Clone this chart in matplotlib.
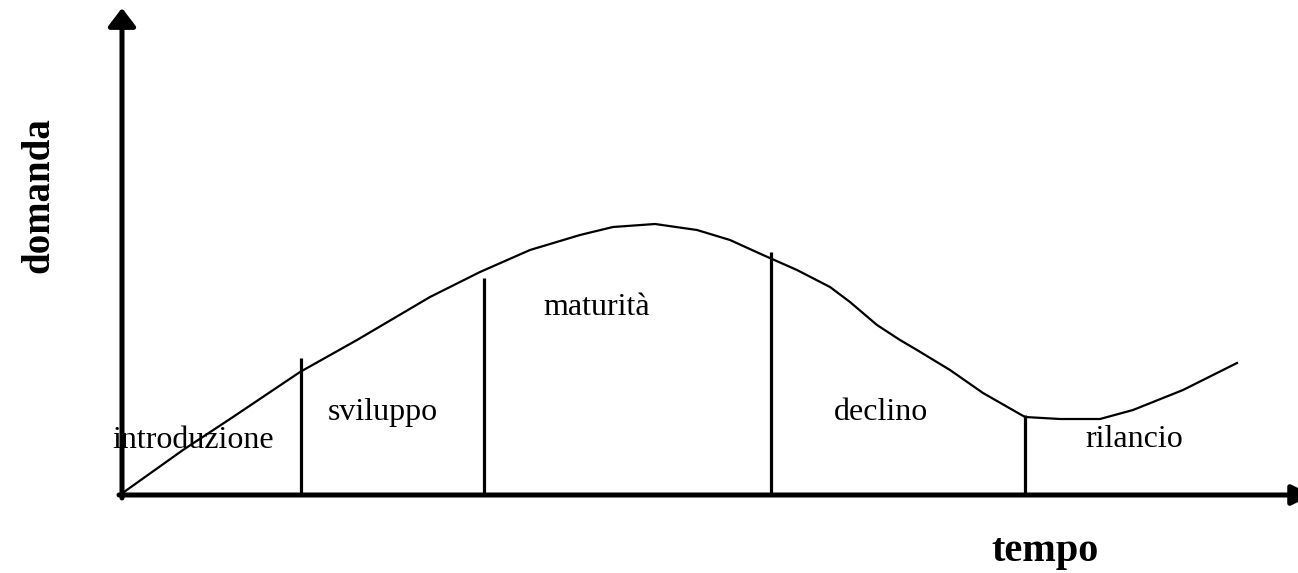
import matplotlib
matplotlib.use("Agg")
import matplotlib.pyplot as plt

# curva della domanda nel ciclo di vita (unita' arbitrarie)
tempo = [2, 61, 111, 178, 235, 308, 358, 408, 458, 491, 533, 575, 608, 641,
         675, 708, 728, 755, 778, 795, 828, 861, 903, 938, 978, 1011, 1061, 1115]
domanda = [3, 45, 78, 123, 155, 198, 223, 245, 260, 268, 271, 265, 255, 240,
           225, 208, 193, 170, 155, 145, 125, 102, 78, 76, 76, 85, 105, 132]

# separatori tra le fasi
confini = [179, 362, 649, 903]
altezze_confini = [137, 217, 243, 80]

fasi = ["introduzione", "sviluppo", "maturità", "declino", "rilancio"]
fasi_x = [71, 261, 475, 759, 1012]
fasi_y = [47, 75, 180, 75, 48]

plt.rcParams['font.family'] = ['Liberation Serif', 'DejaVu Serif']

fig = plt.figure(figsize=(12.98, 5.73), dpi=100)
ax = fig.add_axes([0, 0, 1, 1])
ax.set_xlim(-122, 1176)
ax.set_ylim(-78, 495)
ax.axis("off")

# assi con frecce
ax.annotate("", xy=(0, 487), xytext=(0, -3),
            arrowprops=dict(arrowstyle="-|>,head_length=0.55,head_width=0.42",
                            lw=3.6, color="black", mutation_scale=20, shrinkA=0, shrinkB=0))
ax.annotate("", xy=(1190, 0), xytext=(-3, 0), annotation_clip=False,
            arrowprops=dict(arrowstyle="-|>,head_length=0.6,head_width=0.3",
                            lw=3.6, color="black", mutation_scale=20, shrinkA=0, shrinkB=0))

ax.plot(tempo, domanda, color="black", lw=1.6)
ax.vlines(confini, 0, altezze_confini, color="black", lw=2.3)

for nome, x, y in zip(fasi, fasi_x, fasi_y):
    ax.text(x, y, nome, fontsize=23, ha="center", va="baseline")

ax.text(923, -66, "tempo", fontsize=29, fontweight="bold", ha="center", va="baseline")
ax.text(-74, 300, "domanda", fontsize=28, fontweight="bold", rotation=90,
        rotation_mode="anchor", ha="center", va="baseline")

fig.savefig("out.png", dpi=100)
